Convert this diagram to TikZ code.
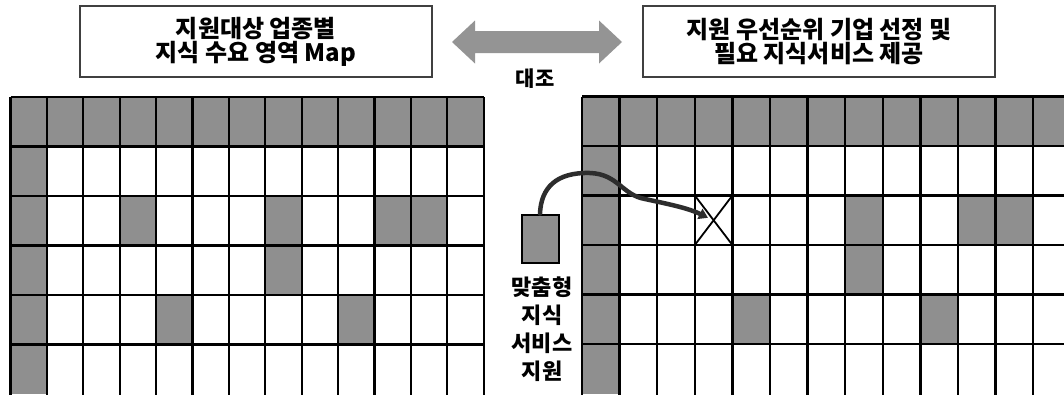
\documentclass[tikz,border=0pt]{standalone}
\usepackage{fontspec}
\newfontfamily\kr{Noto Sans CJK KR}
\usetikzlibrary{arrows.meta}
\definecolor{cellgray}{RGB}{143,143,143}
\definecolor{arrowgray}{RGB}{148,148,148}
\definecolor{curvegray}{RGB}{45,45,45}
\tikzset{
  gridline/.style={line width=2.3pt, black},
  headbox/.style={draw=black!75, line width=1.3pt, minimum width=352pt, minimum height=71pt, align=center,
    font=\kr\bfseries\fontsize{24}{24}\selectfont, inner sep=0pt},
  sidetext/.style={align=center, font=\kr\bfseries\fontsize{22}{28}\selectfont, inner sep=0pt},
  minibox/.style={draw=black, line width=2pt, fill=cellgray, minimum width=37pt, minimum height=48pt, inner sep=0pt},
}
\newcommand\shadecells{%
  \foreach \c in {0,...,12} {\fill[cellgray] (\c,0) rectangle ++(1,1);}
  \foreach \r in {1,...,5} {\fill[cellgray] (0,\r) rectangle ++(1,1);}
  \foreach \c/\r in {7/2,10/2,11/2,7/3,4/4,9/4} {\fill[cellgray] (\c,\r) rectangle ++(1,1);}
}
\newcommand\gridlines{%
  \foreach \c in {0,...,13} {\draw[gridline] (\c,0) -- (\c,6.3);}
  \foreach \r in {0,...,5} {\draw[gridline] (0,\r) -- (13,\r);}
}
\begin{document}
\begin{tikzpicture}[x=1pt,y=-1pt]
\useasboundingbox (0,0) rectangle (1064,394);
\clip (0,0) rectangle (1064,394);
\fill[white] (0,0) rectangle (1064,394);

% left grid
\begin{scope}[shift={(10.5pt,-97pt)}, x=36.4pt, y=-49.5pt]
  \shadecells
  \fill[cellgray] (3,2) rectangle ++(1,1);
  \gridlines
\end{scope}

% right grid
\begin{scope}[shift={(582pt,-96.5pt)}, x=37.6pt, y=-49.5pt]
  \shadecells
  \gridlines
  \draw[line width=1.8pt] (3,2) -- (4,3) (4,2) -- (3,3);
  \coordinate (xcell) at (3.35,2.45);
\end{scope}

% header boxes
\node[headbox] (lbox) at (256,41.5) {지원대상 업종별\\지식 수요 영역 Map};
\node[headbox] (rbox) at (819,41.5) {지원 우선순위 기업 선정 및\\필요 지식서비스 제공};

% double arrow
\fill[arrowgray] (452,42) -- (475,20.5) -- (475,31) -- (599,31) -- (599,20.5) -- (622,42)
  -- (599,63.5) -- (599,53) -- (475,53) -- (475,63.5) -- cycle;
\node[font=\kr\bfseries\fontsize{21}{22}\selectfont, inner sep=0pt] (cmp) at (535,79) {대조};

% customised service box
\node[minibox] (sbox) at (540,238.5) {};
\node[sidetext] (stext) at (542,329) {맞춤형\\지식\\서비스\\지원};

\draw[curvegray, line width=4.5pt, line cap=round, -{Triangle[length=9pt,width=11pt]}]
  (sbox.north) .. controls (541,188) and (556,172) .. (590,173)
  .. controls (618,174) and (622,195) .. (645,199)
  .. controls (668,204) and (688,208) .. (xcell);
\end{tikzpicture}
\end{document}
